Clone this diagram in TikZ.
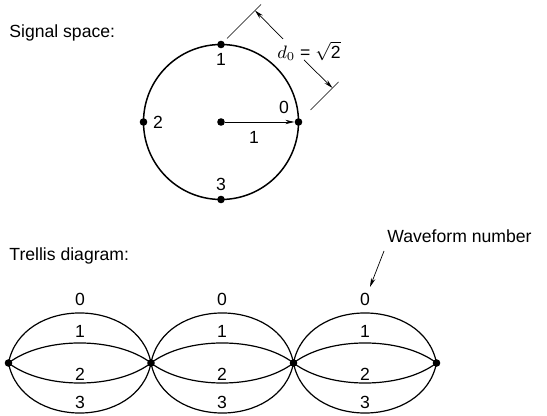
\documentclass[tikz,border=0pt]{standalone}
\usepackage{fontspec}
\setmainfont{Liberation Sans}
\usetikzlibrary{arrows.meta,calc}

\begin{document}
\begin{tikzpicture}[
    x=0.5pt, y=-0.5pt,
    dot/.style={circle, fill=black, inner sep=0pt, minimum size=3.8pt},
    lbl/.style={font=\fontsize{8.8}{10}\selectfont, inner sep=0pt},
    dim line/.style={line width=0.35pt},
    tip/.style={-{Stealth[length=4.5pt, width=2.2pt]}},
    branch/.style={line width=0.6pt}
]
  \useasboundingbox (0,0) rectangle (547,416);

  % signal space
  \node[lbl, anchor=base west] (sigtitle) at (9,38) {Signal space:};
  \draw[line width=0.75pt] (221,122) circle[radius=77.5];
  \node[dot] (s0) at (298.5,122) {};
  \node[dot] (s1) at (221,44.5) {};
  \node[dot] (s2) at (143.5,122) {};
  \node[dot] (s3) at (221,199.5) {};
  \node[dot] (orig) at (221,122) {};
  \node[lbl] (l0) at (284,107) {0};
  \node[lbl] (l1) at (221,59) {1};
  \node[lbl] (l2) at (158,122) {2};
  \node[lbl] (l3) at (221,184) {3};
  \node[lbl] (rad) at (254,137) {1};
  \draw[dim line, tip] (orig) -- (s0);

  % distance d0 between neighbours
  \coordinate (x1a) at ($(s1)+(6,-6)$);
  \coordinate (x1b) at ($(s1)+(40,-40)$);
  \coordinate (x0a) at ($(s0)+(12,-12)$);
  \coordinate (x0b) at ($(s0)+(40,-40)$);
  \coordinate (d1) at ($(s1)+(34,-34)$);
  \coordinate (d0) at ($(s0)+(34,-34)$);
  \coordinate (g1) at (283,39);
  \coordinate (g0) at (304,60);
  \draw[dim line] (x1a) -- (x1b);
  \draw[dim line] (x0a) -- (x0b);
  \draw[dim line, tip] (g1) -- (d1);
  \draw[dim line, tip] (g0) -- (d0);
  \node[lbl] (dist) at (309,51) {$d_0$ = $\sqrt{\mbox{2}}$};

  % trellis
  \node[lbl, anchor=base west] (trtitle) at (9,261) {Trellis diagram:};
  \node[lbl, anchor=base west] (wfnum) at (387,243) {Waveform number};
  \foreach \n/\x in {0/8.5, 1/151, 2/293.5, 3/436.5}
    \node[dot] (t\n) at (\x,363) {};
  \foreach \a/\b/\m in {0/1/80, 1/2/222, 2/3/365} {
    \draw[branch] (t\a.center) .. controls +(13,-66.7) and +(-13,-66.7) .. (t\b.center);
    \draw[branch] (t\a.center) .. controls +(35,-26.7) and +(-35,-26.7) .. (t\b.center);
    \draw[branch] (t\a.center) .. controls +(35,26.7) and +(-35,26.7) .. (t\b.center);
    \draw[branch] (t\a.center) .. controls +(13,66.7) and +(-13,66.7) .. (t\b.center);
    \node[lbl] (w0\a) at (\m,299) {0};
    \node[lbl] (w1\a) at (\m,331) {1};
    \node[lbl] (w2\a) at (\m,374) {2};
    \node[lbl] (w3\a) at (\m,402) {3};
  }
  \coordinate (wfa) at ($(wfnum.base west)+(-3,8)$);
  \coordinate (wfb) at ($(w02)+(5,-12)$);
  \draw[dim line, tip] (wfa) -- (wfb);
\end{tikzpicture}
\end{document}
